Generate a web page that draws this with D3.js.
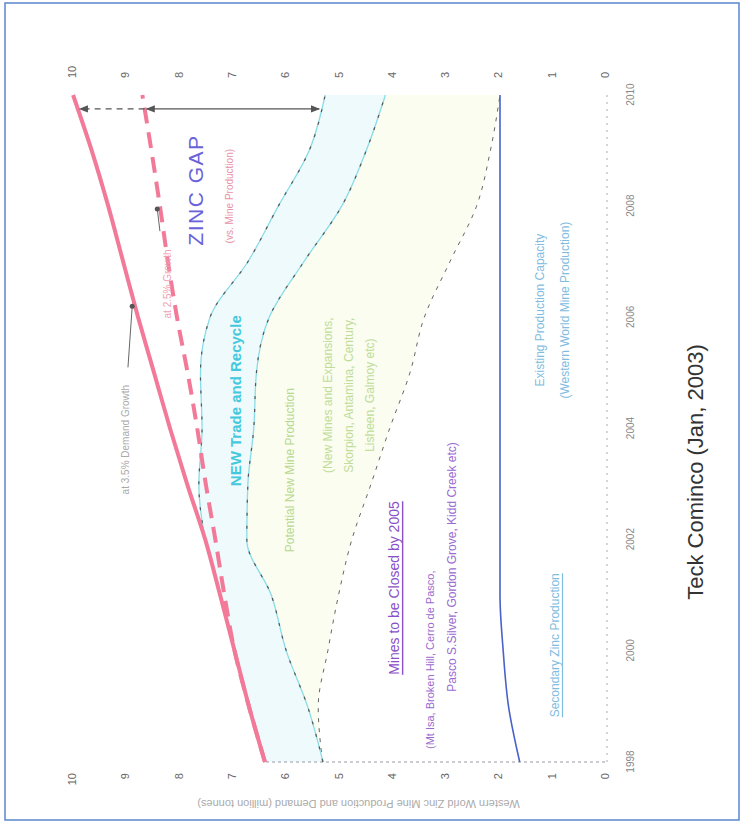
<!DOCTYPE html>
<html><head><meta charset="utf-8">
<script src="https://cdn.jsdelivr.net/npm/d3@7"></script>
<style>
body{margin:0;background:#fff;}
svg{display:block;font-family:"Liberation Sans",Arial,sans-serif;}
</style>
</head><body>
<svg id="c" width="743" height="824"></svg>
<script>
// ---------------- data (million tonnes zinc) ----------------
const years        = [1998,1999,2000,2001,2002,2003,2004,2005,2006,2007,2008,2009,2010];
const demandHigh   = [6.38,6.68,6.95,7.22,7.50,7.84,8.16,8.46,8.76,9.04,9.32,9.63,9.98];
const demandLow    = [6.38,6.68,6.95,7.14,7.31,7.49,7.65,7.83,8.03,8.20,8.35,8.51,8.68];
const totalSupply  = [6.38,6.68,6.95,7.22,7.50,7.62,7.56,7.59,7.41,6.70,6.13,5.55,5.25];
const newMines     = [5.29,5.58,5.98,6.26,6.72,6.70,6.59,6.54,6.30,5.65,4.94,4.48,4.12];
const existingMines= [5.30,5.38,5.20,5.00,4.75,4.39,4.04,3.66,3.39,2.91,2.41,2.15,1.97];
const secondary    = [1.60,1.81,1.91,1.97,1.97,1.97,1.97,1.97,1.97,1.97,1.97,1.97,1.97];
const valueTicks   = [0,1,2,3,4,5,6,7,8,9,10];
const yearTicks    = [1998,2000,2002,2004,2006,2008,2010];
const gapYear      = 2009.75;

// ---------------- layout (chart drawn rotated 90° counter-clockwise) ----------------
const svg = d3.select("#c");
svg.append("rect").attr("x",5).attr("y",3).attr("width",734).attr("height",817)
  .attr("fill","none").attr("stroke","#5b86d0").attr("stroke-width",1.5);

const W = 688, H = 533;
const g = svg.append("g").attr("transform","translate(72,770) rotate(-90)");
const x = d3.scaleLinear().domain([1998,2010]).range([8,675]);
const y = d3.scaleLinear().domain([0,10]).range([H,0]);

const pts = arr => years.map((yr,i)=>[yr,arr[i]]);
const line = d3.line().x(d=>x(d[0])).y(d=>y(d[1])).curve(d3.curveMonotoneX);
const band = (lo,hi)=>d3.area().x((d,i)=>x(years[i])).y0((d,i)=>y(lo[i])).y1((d,i)=>y(hi[i])).curve(d3.curveMonotoneX)(years);

// fills
g.append("path").attr("d",band(newMines,totalSupply)).attr("fill","#eefafc");
g.append("path").attr("d",band(existingMines,newMines)).attr("fill","#fafdef");

// axes lines (faint dotted)
g.append("line").attr("x1",x(1998)).attr("x2",x(2010)).attr("y1",y(0)+2).attr("y2",y(0)+2)
  .attr("stroke","#aab").attr("stroke-dasharray","2,5");
g.append("line").attr("x1",x(1998)).attr("x2",x(1998)).attr("y1",y(0)).attr("y2",y(demandHigh[0]))
  .attr("stroke","#99a").attr("stroke-dasharray","3,3");

// value axes (left and right of rotated frame)
const fmt = d3.format("d");
const axL = g.append("g").call(d3.axisLeft(y).tickValues(valueTicks).tickSize(0).tickPadding(3).tickFormat(fmt));
const axR = g.append("g").attr("transform",`translate(${W},0)`)
  .call(d3.axisRight(y).tickValues(valueTicks).tickSize(0).tickPadding(4).tickFormat(fmt));
[axL,axR].forEach(a=>{a.select(".domain").remove();a.selectAll("text").attr("fill","#666").attr("font-size",11);});
// year axis
const axB = g.append("g").attr("transform",`translate(0,${H})`)
  .call(d3.axisBottom(x).tickValues(yearTicks).tickSize(0).tickPadding(22).tickFormat(fmt));
axB.select(".domain").remove();
axB.selectAll("text").attr("fill","#888").attr("font-size",10);

// axis title (upside-down in final picture)
g.append("text").attr("transform",`translate(-30,${H/2+20}) rotate(-90)`).attr("text-anchor","middle")
  .attr("font-size",11).attr("fill","#aaa").text("Western World Zinc Mine Production and Demand (million tonnes)");

// series lines
g.append("path").attr("d",line(pts(secondary))).attr("fill","none").attr("stroke","#4a62c8").attr("stroke-width",1.6);
g.append("path").attr("d",line(pts(existingMines))).attr("fill","none").attr("stroke","#666").attr("stroke-width",1).attr("stroke-dasharray","4,6");
[newMines,totalSupply].forEach(s=>{
  g.append("path").attr("d",line(pts(s))).attr("fill","none").attr("stroke","#8adbe8").attr("stroke-width",1.3);
  g.append("path").attr("d",line(pts(s))).attr("fill","none").attr("stroke","#555").attr("stroke-width",1.2).attr("stroke-dasharray","3,10");
});
g.append("path").attr("d",line(pts(demandLow))).attr("fill","none").attr("stroke","#f27a98").attr("stroke-width",4).attr("stroke-dasharray","16,9");
g.append("path").attr("d",line(pts(demandHigh))).attr("fill","none").attr("stroke","#f27a98").attr("stroke-width",4);

// gap arrows
const defs = svg.append("defs");
defs.append("marker").attr("id","ah").attr("viewBox","0 0 10 10").attr("refX",9).attr("refY",5)
  .attr("markerWidth",9).attr("markerHeight",7).attr("orient","auto-start-reverse")
  .append("path").attr("d","M0,1L10,5L0,9z").attr("fill","#555");
const interp = arr => d3.scaleLinear().domain(years).range(arr)(gapYear);
const gx = x(gapYear);
g.append("line").attr("x1",gx).attr("x2",gx).attr("y1",y(interp(demandLow))).attr("y2",y(interp(demandHigh))+2)
  .attr("stroke","#555").attr("stroke-width",1.3).attr("stroke-dasharray","6,5").attr("marker-end","url(#ah)");
g.append("line").attr("x1",gx).attr("x2",gx).attr("y1",y(interp(totalSupply))-2).attr("y2",y(interp(demandLow))+2)
  .attr("stroke","#555").attr("stroke-width",1.3).attr("marker-end","url(#ah)").attr("marker-start","url(#ah)");

// annotations
function ann(yr,val,txt,o={}){
  const t = g.append("text").attr("x",x(yr)).attr("y",y(val)).attr("text-anchor",o.anchor||"middle")
    .attr("dominant-baseline","central").attr("font-size",o.size||12).attr("fill",o.color||"#555")
    .attr("font-weight",o.weight||"normal").text(txt);
  if(o.underline) t.attr("text-decoration","underline");
  if(o.spacing) t.attr("letter-spacing",o.spacing);
  return t;
}
function leader(y1,v1,y2,v2){
  g.append("line").attr("x1",x(y1)).attr("y1",y(v1)).attr("x2",x(y2)).attr("y2",y(v2)).attr("stroke","#666").attr("stroke-width",1);
  g.append("circle").attr("cx",x(y2)).attr("cy",y(v2)).attr("r",2.5).attr("fill","#555");
}
ann(2008.29,7.69,"ZINC GAP",{size:21,color:"#6a62d8",spacing:1.5});
ann(2008.18,7.04,"(vs. Mine Production)",{size:10,color:"#e892a8"});
ann(2003.8,9.0,"at 3.5% Demand Growth",{size:10,color:"#aaa"});
leader(2005.1,8.95,2006.2,8.87);
ann(2006.6,8.2,"at 2.5% Growth",{size:10,color:"#f0a0b4"});
leader(2007.55,8.35,2007.95,8.40);
ann(2004.5,6.94,"NEW Trade and Recycle",{size:15,color:"#44c8dc",weight:"bold"});
ann(2003.25,5.91,"Potential New Mine Production",{size:12,color:"#b8d890"});
ann(2004.6,5.2,"(New Mines and Expansions,",{size:12,color:"#c0dc98"});
ann(2004.6,4.8,"Skorpion, Antamina, Century,",{size:12,color:"#c0dc98"});
ann(2004.6,4.4,"Lisheen, Galmoy etc)",{size:12,color:"#c0dc98"});
ann(2001.13,3.96,"Mines to be Closed by 2005",{size:14,color:"#8a50c8",underline:true});
ann(1999.84,3.28,"(Mt Isa, Broken Hill, Cerro de Pasco,",{size:11,color:"#9a6ad0"});
ann(2001.51,2.87,"Pasco S.Silver, Gordon Grove, Kidd Creek etc)",{size:12,color:"#9a6ad0"});
ann(2006.13,1.22,"Existing Production Capacity",{size:12,color:"#80bce0"});
ann(2006.13,0.75,"(Western World Mine Production)",{size:12,color:"#80bce0"});
ann(2000.1,0.94,"Secondary Zinc Production",{size:12,color:"#80bce0",underline:true});

// title
svg.append("text").attr("transform","translate(703,472) rotate(-90)").attr("text-anchor","middle")
  .attr("font-size",22).attr("fill","#333").text("Teck Cominco (Jan, 2003)");
</script>
</body></html>
